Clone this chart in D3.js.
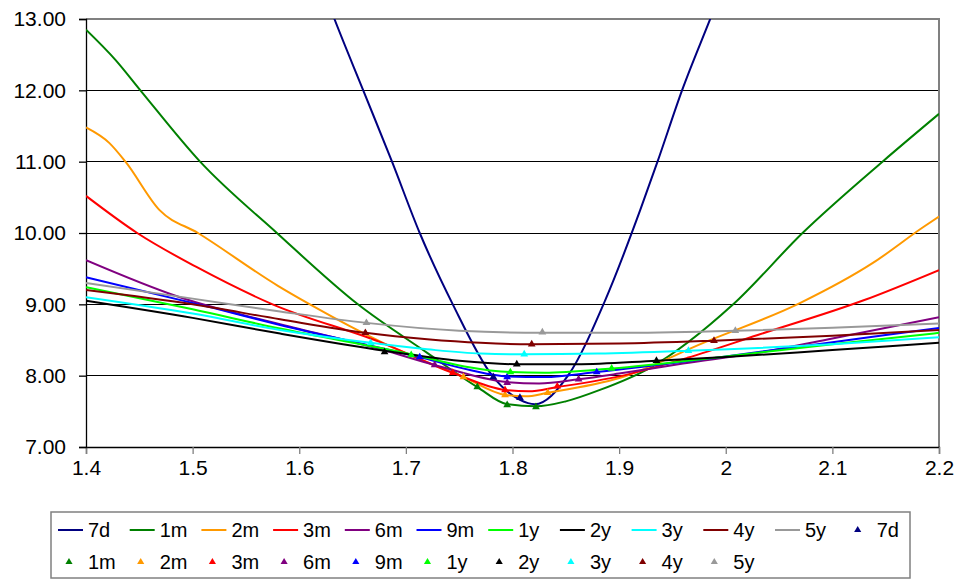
<!DOCTYPE html>
<html>
<head>
<meta charset="utf-8">
<script src="https://cdn.jsdelivr.net/npm/d3@7"></script>
<style>
  html, body { margin: 0; padding: 0; background: #fff; }
  svg { display: block; font-family: "Liberation Sans", Arial, sans-serif; }
</style>
</head>
<body>
<svg id="chart" width="961" height="579"></svg>
<script>
// Volatility smile per tenor: [strike, vol]
const tenors = ["7d", "1m", "2m", "3m", "6m", "9m", "1y", "2y", "3y", "4y", "5y"];
const colors = ["#000080", "#008000", "#FF9900", "#FF0000", "#800080", "#0000FF",
                "#00FF00", "#000000", "#00FFFF", "#800000", "#999999"];

const smile7d = [[1.600,14.35],[1.633,13.0],[1.660,12.0],[1.687,11.0],[1.713,10.0],[1.744,9.0],
  [1.781,8.0],[1.807,7.66],[1.821,7.60],[1.852,8.0],[1.887,9.06],[1.920,10.33],[1.936,11.0],
  [1.959,12.0],[1.987,13.06],[2.010,13.95]];
const smile1m = [[1.40,12.85],[1.428,12.42],[1.451,12.0],[1.507,11.0],[1.579,10.0],[1.655,9.0],
  [1.72,8.32],[1.767,7.84],[1.795,7.60],[1.822,7.57],[1.85,7.64],[1.882,7.80],[1.929,8.11],
  [2.007,9.0],[2.072,10.0],[2.147,11.0],[2.20,11.67]];
const smile2m = [[1.40,11.48],[1.422,11.26],[1.437,11.0],[1.469,10.32],[1.505,10.0],[1.58,9.26],
  [1.61,9.0],[1.68,8.45],[1.754,7.98],[1.793,7.73],[1.812,7.71],[1.833,7.76],[1.901,7.97],
  [1.979,8.46],[2.07,9.02],[2.138,9.58],[2.185,10.08],[2.20,10.23]];
const smile3m = [[1.40,10.52],[1.448,10.0],[1.504,9.52],[1.575,9.0],[1.676,8.47],[1.744,8.04],
  [1.793,7.80],[1.815,7.78],[1.842,7.84],[1.90,7.99],[1.964,8.25],[2.03,8.57],[2.13,9.06],[2.20,9.48]];
const smile6m = [[1.40,9.62],[1.488,9.10],[1.582,8.72],[1.679,8.36],[1.727,8.15],[1.795,7.91],
  [1.825,7.89],[1.862,7.95],[1.90,8.03],[1.96,8.17],[2.03,8.32],[2.10,8.52],[2.20,8.82]];
const smile9m = [[1.40,9.38],[1.519,8.95],[1.582,8.71],[1.713,8.26],[1.76,8.08],[1.795,7.99],
  [1.83,7.98],[1.879,8.05],[2.00,8.27],[2.10,8.47],[2.20,8.67]];
const smile1y = [[1.40,9.24],[1.50,8.93],[1.582,8.66],[1.705,8.30],[1.755,8.13],[1.798,8.05],
  [1.83,8.04],[1.893,8.10],[2.00,8.27],[2.10,8.44],[2.20,8.60]];
const smile2y = [[1.40,9.05],[1.50,8.81],[1.582,8.59],[1.680,8.35],[1.75,8.21],[1.804,8.16],
  [1.86,8.16],[1.935,8.21],[2.00,8.26],[2.10,8.36],[2.20,8.46]];
const smile3y = [[1.40,9.10],[1.50,8.87],[1.582,8.64],[1.667,8.46],[1.72,8.37],[1.77,8.31],
  [1.811,8.30],[1.88,8.31],[1.965,8.35],[2.10,8.44],[2.20,8.54]];
const smile4y = [[1.40,9.20],[1.50,9.00],[1.582,8.79],[1.662,8.60],[1.72,8.51],[1.77,8.46],
  [1.818,8.44],[1.90,8.45],[1.989,8.49],[2.10,8.56],[2.20,8.64]];
const smile5y = [[1.40,9.30],[1.50,9.08],[1.582,8.90],[1.663,8.74],[1.75,8.63],[1.828,8.60],
  [1.90,8.60],[2.009,8.63],[2.10,8.67],[2.20,8.73]];

// Quoted points (25d put, ATM, 25d call) per tenor
const quotes7d = [[1.782,7.98],[1.807,7.69]];
const quotes1m = [[1.767,7.84],[1.795,7.59],[1.822,7.56]];
const quotes2m = [[1.754,7.98],[1.793,7.73],[1.833,7.76]];
const quotes3m = [[1.744,8.04],[1.793,7.80],[1.842,7.85]];
const quotes6m = [[1.727,8.15],[1.795,7.90],[1.862,7.95]];
const quotes9m = [[1.713,8.26],[1.795,7.98],[1.879,8.05]];
const quotes1y = [[1.705,8.29],[1.798,8.05],[1.893,8.10]];
const quotes2y = [[1.680,8.33],[1.804,8.16],[1.935,8.21]];
const quotes3y = [[1.667,8.46],[1.811,8.30],[1.965,8.35]];
const quotes4y = [[1.662,8.60],[1.818,8.44],[1.989,8.49]];
const quotes5y = [[1.663,8.74],[1.828,8.61],[2.009,8.63]];

const xTicks = [1.4, 1.5, 1.6, 1.7, 1.8, 1.9, 2.0, 2.1, 2.2];
const yTicks = [7, 8, 9, 10, 11, 12, 13];

const smiles = [smile7d, smile1m, smile2m, smile3m, smile6m, smile9m, smile1y, smile2y, smile3y, smile4y, smile5y];
const quotes = [quotes7d, quotes1m, quotes2m, quotes3m, quotes6m, quotes9m, quotes1y, quotes2y, quotes3y, quotes4y, quotes5y];

const svg = d3.select("#chart");
const L = 86, R = 939, T = 19, B = 447;

const x = d3.scaleLinear().domain([1.4, 2.2]).range([L, R]);
const y = d3.scaleLinear().domain([7, 13]).range([B, T]);

svg.append("rect").attr("width", 961).attr("height", 579).attr("fill", "#fff");

// horizontal gridlines
svg.append("g").selectAll("line").data(yTicks.filter(v => v > 7 && v < 13)).join("line")
  .attr("x1", L).attr("x2", R).attr("y1", d => y(d)).attr("y2", d => y(d))
  .attr("stroke", "#000").attr("stroke-width", 1).attr("shape-rendering", "crispEdges");

// plot border (top / right)
svg.append("path")
  .attr("d", `M${L},${y(13)}H${R}V${B}`)
  .attr("fill", "none").attr("stroke", "#808080").attr("stroke-width", 1.3)
  .attr("shape-rendering", "crispEdges");

// clip region
svg.append("clipPath").attr("id", "plotclip")
  .append("rect").attr("x", L).attr("y", T).attr("width", R - L).attr("height", B - T);

// axes
const xAxis = d3.axisBottom(x).tickValues(xTicks).tickSize(7).tickPadding(6)
  .tickFormat(d => d === 2 ? "2" : d3.format(".1f")(d));
const gx = svg.append("g").attr("transform", `translate(0,${B})`).call(xAxis);
gx.select(".domain").attr("stroke", "#000").attr("stroke-width", 1.3);
gx.selectAll(".tick line").attr("stroke", "#808080").attr("stroke-width", 1.3);
gx.selectAll("text").attr("font-size", 21).attr("fill", "#000")
  .attr("font-family", "Liberation Sans, Arial, sans-serif").attr("dy", "0.71em");

const yAxis = d3.axisLeft(y).tickValues(yTicks).tickSize(7).tickPadding(13)
  .tickFormat(d3.format(".2f"));
const gy = svg.append("g").attr("transform", `translate(${L},0)`).call(yAxis);
gy.select(".domain").attr("stroke", "#000").attr("stroke-width", 1.3);
gy.selectAll(".tick line").attr("stroke", "#000").attr("stroke-width", 1.3);
gy.selectAll("text").attr("font-size", 21).attr("fill", "#000")
  .attr("font-family", "Liberation Sans, Arial, sans-serif");

// smile curves
const line = d3.line().x(d => x(d[0])).y(d => y(d[1])).curve(d3.curveMonotoneX);
const gl = svg.append("g").attr("clip-path", "url(#plotclip)");
smiles.forEach((s, i) => {
  gl.append("path").datum(s).attr("d", line)
    .attr("fill", "none").attr("stroke", colors[i]).attr("stroke-width", 2)
    .attr("stroke-linejoin", "round");
});

// quote markers
const tri = d3.symbol().type(d3.symbolTriangle).size(26);
const gm = svg.append("g");
quotes.forEach((q, i) => {
  gm.selectAll(null).data(q).join("path")
    .attr("d", tri)
    .attr("transform", d => `translate(${x(d[0])},${y(d[1])})`)
    .attr("fill", colors[i]);
});

// legend
const lg = svg.append("g");
lg.append("rect").attr("x", 51).attr("y", 512).attr("width", 859).attr("height", 66)
  .attr("fill", "#fff").attr("stroke", "#808080").attr("stroke-width", 1.5);

const slotW = 71.7, slot0 = 55;
const legendItems = [];
tenors.forEach((t, i) => legendItems.push({ name: t, color: colors[i], kind: "line" }));
tenors.forEach((t, i) => legendItems.push({ name: t, color: colors[i], kind: "marker" }));

legendItems.forEach((it, k) => {
  const row = k < 12 ? 0 : 1;
  const col = k < 12 ? k : k - 12;
  const sx = slot0 + col * slotW;
  const cy = row === 0 ? 530 : 562;
  if (it.kind === "line") {
    lg.append("line").attr("x1", sx + 3).attr("x2", sx + 28).attr("y1", cy).attr("y2", cy)
      .attr("stroke", it.color).attr("stroke-width", 2);
  } else {
    lg.append("path").attr("d", d3.symbol().type(d3.symbolTriangle).size(22))
      .attr("transform", `translate(${sx + 14},${cy})`).attr("fill", it.color);
  }
  lg.append("text").attr("x", sx + 33).attr("y", cy).attr("dy", "0.36em")
    .attr("font-size", 20).attr("fill", "#000").text(it.name);
});
</script>
</body>
</html>
